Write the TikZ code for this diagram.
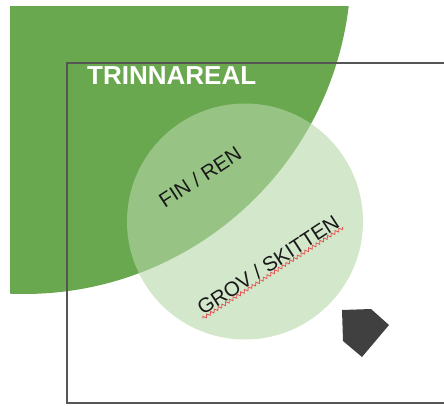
\documentclass[tikz,border=0pt]{standalone}
\usepackage{fontspec}
\setmainfont{Liberation Sans}
\usetikzlibrary{decorations.pathmorphing,calc}
\definecolor{darkgreen}{HTML}{6AA84F}
\definecolor{lightgreen}{HTML}{B6D7A8}
\definecolor{framegray}{HTML}{555555}
\definecolor{pentgray}{HTML}{404040}
\definecolor{squigred}{HTML}{E05555}
\tikzset{
  zonelabel/.style={font=\fontsize{20.5}{20.5}\selectfont, text=black!90, rotate=33, inner sep=1.5pt},
  squiggle/.style={draw=squigred, line width=0.8pt, decorate, decoration={zigzag, amplitude=1.6pt, segment length=4.5pt}},
}
\begin{document}
\begin{tikzpicture}[x=1pt,y=-1pt]
\useasboundingbox (0,0) rectangle (444,406);
\begin{scope}
  \clip (10,7) rectangle (444,406);
  \fill[darkgreen] (24,-33) circle[radius=327pt];
\end{scope}
\draw[framegray, line width=1.3pt] (446,63) -- (67,63) -- (67,403) -- (446,403);
\fill[lightgreen, fill opacity=0.6] (245,221.5) circle[radius=118pt];
\node[anchor=base west, text=white, font=\fontsize{26}{26}\selectfont\bfseries, inner sep=0pt] (title) at (87,85) {TRINNAREAL};
\node[zonelabel] (fin) at (200,177) {FIN / REN};
\node[zonelabel] (grov) at (268,265) {GROV / SKITTEN};
\draw[squiggle] (grov.south west) -- (grov.south east);
\fill[pentgray] (342,310) -- (371,309) -- (389,325) -- (362,357) -- (343,341) -- cycle;
\end{tikzpicture}
\end{document}
